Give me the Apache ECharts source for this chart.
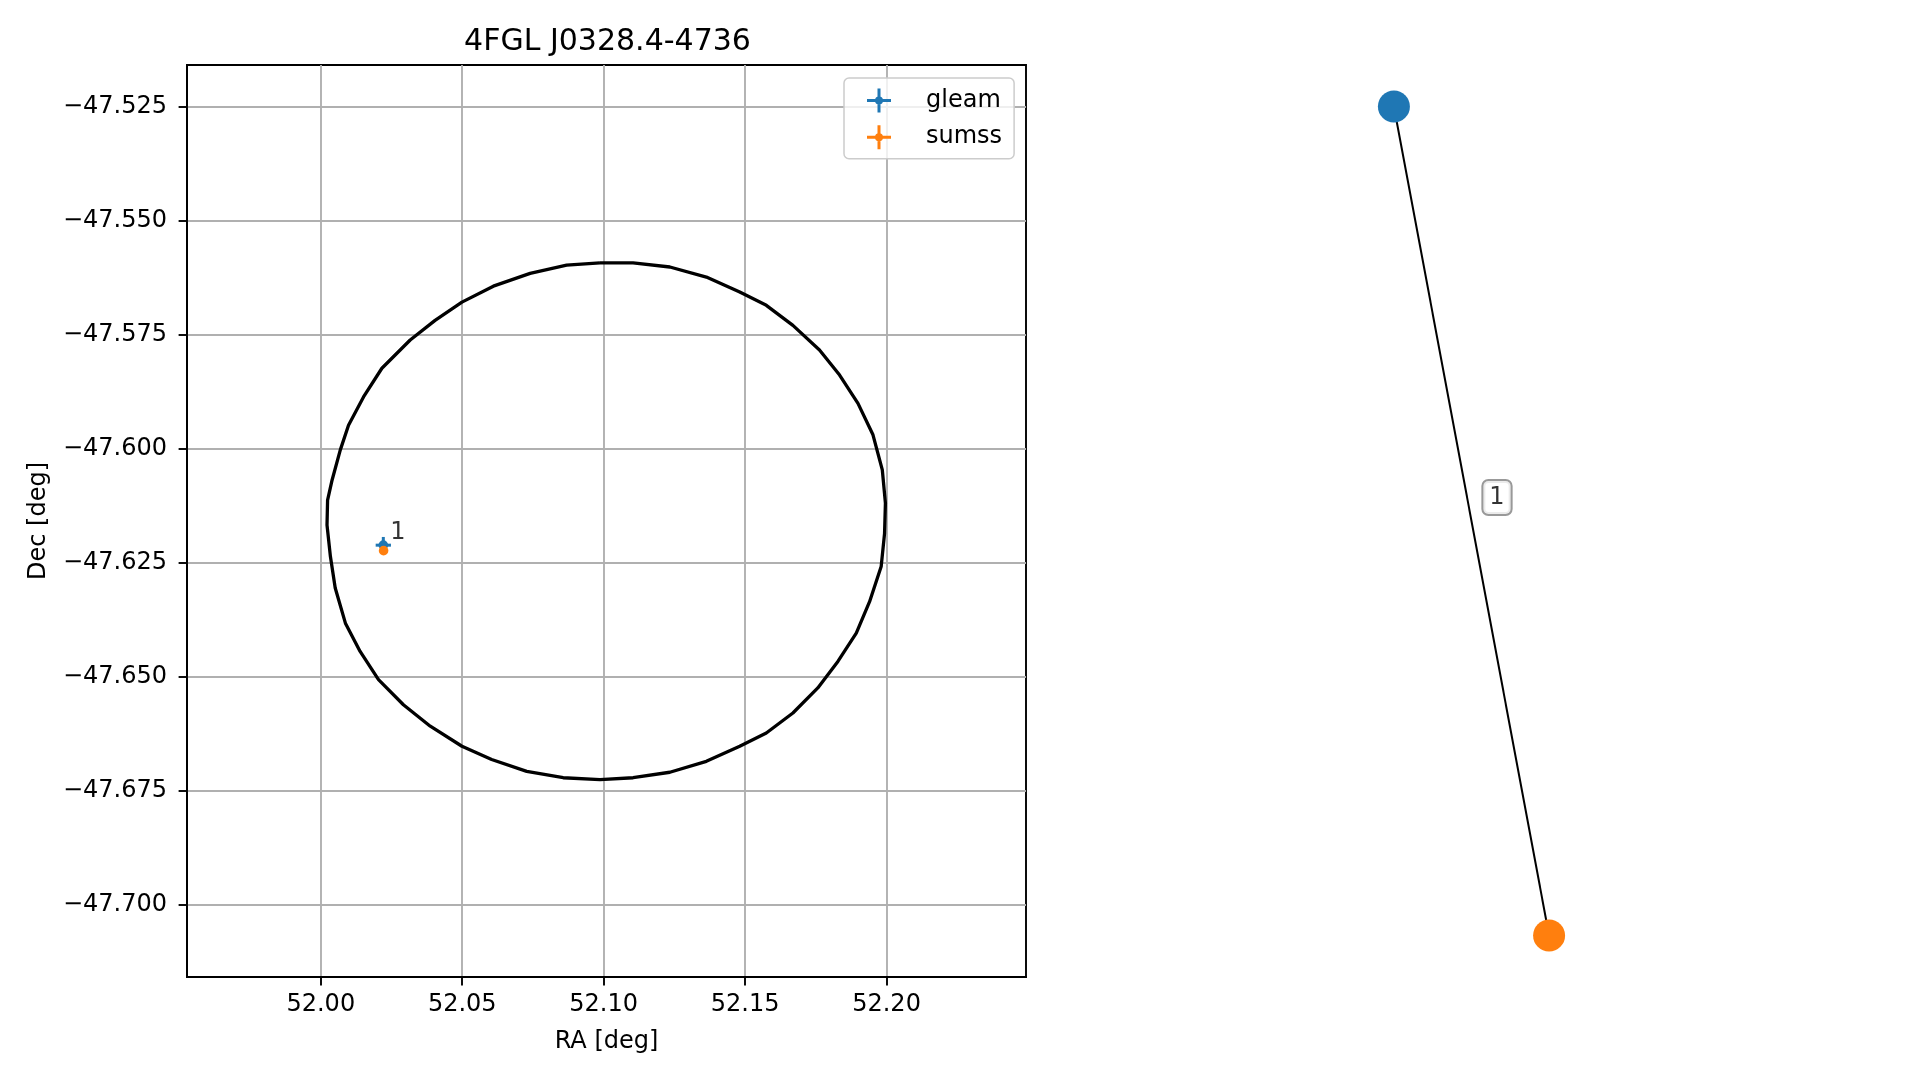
<!DOCTYPE html>
<html><head><meta charset="utf-8">
<script src="https://cdn.jsdelivr.net/npm/echarts@6/dist/echarts.min.js"></script>
<style>html,body{margin:0;padding:0;background:#fff}#c{width:1919px;height:1080px}</style>
</head><body><div id="c"></div>
<script>
const chartTitle = '4FGL J0328.4-4736';
const xTicks = [52.00, 52.05, 52.10, 52.15, 52.20];
const yTicks = [-47.700, -47.675, -47.650, -47.625, -47.600, -47.575, -47.550, -47.525];
const xRange = [51.9527, 52.2493];
const yRange = [-47.7159, -47.5159];
// 95% ellipse polygon vertices
const ellipseRA = [52.0987, 52.1104, 52.1234, 52.1363, 52.1481, 52.1575, 52.1669, 52.1763, 52.1834, 52.1899,
  52.1952, 52.1985, 52.1996, 52.1993, 52.1981, 52.1940, 52.1893, 52.1828, 52.1757, 52.1669,
  52.1575, 52.1481, 52.1363, 52.1234, 52.1104, 52.0987, 52.0857, 52.0728, 52.0604, 52.0499,
  52.0387, 52.0292, 52.0204, 52.0139, 52.0087, 52.0051, 52.0034, 52.0022, 52.0024, 52.0040,
  52.0069, 52.0098, 52.0151, 52.0216, 52.0316, 52.0404, 52.0499, 52.0610, 52.0740, 52.0869];
const ellipseDec = [-47.5593, -47.5593, -47.5602, -47.5624, -47.5657, -47.5686, -47.5730, -47.5784, -47.5839, -47.5901,
  -47.5970, -47.6047, -47.6120, -47.6186, -47.6259, -47.6336, -47.6405, -47.6467, -47.6525, -47.6580,
  -47.6624, -47.6653, -47.6686, -47.6710, -47.6722, -47.6726, -47.6722, -47.6708, -47.6682, -47.6653,
  -47.6609, -47.6562, -47.6507, -47.6445, -47.6383, -47.6306, -47.6237, -47.6168, -47.6113, -47.6069,
  -47.6003, -47.5949, -47.5887, -47.5824, -47.5762, -47.5719, -47.5679, -47.5644, -47.5616, -47.5598];
const sourceNames = ['gleam', 'sumss'];
const sourceRA = [52.0221, 52.0222];
const sourceDec = [-47.6212, -47.6224];
const sourceRAErr = [0.0027, 0.0008];
const sourceDecErr = [0.0018, 0.0006];
const matchLabels = ['1'];
const graphNodeX = [-0.30, 0.30];
const graphNodeY = [1.0, -1.0];
const graphEdges = [[0, 1]];

const colors = ['#1f77b4', '#ff7f0e'];
const FONT = 'DejaVu Sans';
const plusIcon = 'path://M0,10.5L24,10.5L24,13.5L0,13.5Z M10.5,0L13.5,0L13.5,24L10.5,24Z M8,12A4,4,0,1,1,16,12A4,4,0,1,1,8,12Z';

function errRender(params, api) {
  const x = api.value(0), y = api.value(1), xe = api.value(2), ye = api.value(3);
  const c = api.coord([x, y]);
  const l = api.coord([x - xe, y]), r = api.coord([x + xe, y]);
  const t = api.coord([x, y + ye]), b = api.coord([x, y - ye]);
  const color = api.visual('color');
  return {type: 'group', children: [
    {type: 'line', shape: {x1: l[0], y1: l[1], x2: r[0], y2: r[1]}, style: {stroke: color, lineWidth: 3}},
    {type: 'line', shape: {x1: t[0], y1: t[1], x2: b[0], y2: b[1]}, style: {stroke: color, lineWidth: 3}},
    {type: 'circle', shape: {cx: c[0], cy: c[1], r: 4.8}, style: {fill: color}}
  ]};
}

const ellipseData = ellipseRA.map((ra, i) => [ra, ellipseDec[i]]);
ellipseData.push(ellipseData[0]);

const srcSeries = sourceNames.map((n, i) => ({
  name: n, type: 'custom', xAxisIndex: 0, yAxisIndex: 0,
  itemStyle: {color: colors[i]},
  renderItem: errRender,
  encode: {x: 0, y: 1},
  data: [[sourceRA[i], sourceDec[i], sourceRAErr[i], sourceDecErr[i]]],
  z: 5 + i
}));

// edge label anchors: midpoints of edges in graph layout
const edgeMid = graphEdges.map(e => [(graphNodeX[e[0]] + graphNodeX[e[1]]) / 2, (graphNodeY[e[0]] + graphNodeY[e[1]]) / 2]);

const option = {
  backgroundColor: '#fff',
  animation: false,
  title: {text: chartTitle, left: 602.5, textAlign: 'center', top: 22,
    textStyle: {fontFamily: FONT, fontSize: 30, fontWeight: 'normal', color: '#000'}},
  legend: {
    left: 844, top: 78, orient: 'vertical', itemWidth: 24, itemHeight: 25, itemGap: 11.7,
    padding: [10, 12, 9, 23], backgroundColor: 'rgba(255,255,255,0.8)', borderColor: '#cccccc',
    borderWidth: 1.5, borderRadius: 5, selectedMode: false,
    textStyle: {fontSize: 24, lineHeight: 25, fontFamily: FONT, color: '#000', padding: [0, 0, 0, 30]},
    data: sourceNames.map(n => ({name: n, icon: plusIcon}))
  },
  grid: [
    {left: 187, top: 65, width: 839, height: 912, show: true, borderColor: '#000', borderWidth: 1.9, containLabel: false},
    {left: 1187, top: 65, width: 569, height: 912, show: false}
  ],
  xAxis: [
    {type: 'value', gridIndex: 0, min: xRange[0], max: xRange[1],
      name: 'RA [deg]', nameLocation: 'middle', nameGap: 53,
      nameTextStyle: {fontFamily: FONT, fontSize: 24, color: '#000'},
      axisLine: {show: true, lineStyle: {color: '#000', width: 1.9}},
      axisTick: {show: true, customValues: xTicks, length: 8.4, lineStyle: {color: '#000', width: 1.9}},
      axisLabel: {customValues: xTicks, margin: 16, fontFamily: FONT, fontSize: 24, color: '#000', formatter: v => v.toFixed(2)},
      splitLine: {show: true, lineStyle: {color: '#b0b0b0', width: 1.9}}},
    {type: 'value', gridIndex: 1, min: -1.1, max: 1.1, show: false}
  ],
  yAxis: [
    {type: 'value', gridIndex: 0, min: yRange[0], max: yRange[1],
      name: 'Dec [deg]', nameLocation: 'middle', nameGap: 136,
      nameTextStyle: {fontFamily: FONT, fontSize: 24, color: '#000'},
      axisLine: {show: true, lineStyle: {color: '#000', width: 1.9}},
      axisTick: {show: true, customValues: yTicks, length: 8.4, lineStyle: {color: '#000', width: 1.9}},
      axisLabel: {customValues: yTicks, margin: 20, fontFamily: FONT, fontSize: 24, color: '#000',
        formatter: v => v.toFixed(3).replace('-', '\u2212')},
      splitLine: {show: true, lineStyle: {color: '#b0b0b0', width: 1.9}}},
    {type: 'value', gridIndex: 1, min: -1.1, max: 1.1, show: false}
  ],
  series: [
    {name: 'ellipse', type: 'line', xAxisIndex: 0, yAxisIndex: 0, data: ellipseData,
      symbol: 'none', smooth: false, lineStyle: {color: '#000', width: 3.3}, z: 3, silent: true},
    ...srcSeries,
    {name: 'annot', type: 'scatter', xAxisIndex: 0, yAxisIndex: 0, symbolSize: 2,
      itemStyle: {color: 'rgba(0,0,0,0)'}, silent: true, z: 8,
      data: [[sourceRA[0], sourceDec[0]]],
      label: {show: true, position: 'right', distance: 6, offset: [0, -12],
        formatter: () => matchLabels[0], fontFamily: FONT, fontSize: 24, color: '#000'}},
    {name: 'graph', type: 'graph', coordinateSystem: 'cartesian2d', xAxisIndex: 1, yAxisIndex: 1,
      symbolSize: 32, silent: true,
      data: sourceNames.map((n, i) => ({name: n, value: [graphNodeX[i], graphNodeY[i]], itemStyle: {color: colors[i]}})),
      links: graphEdges.map(e => ({source: e[0], target: e[1]})),
      lineStyle: {color: '#000', width: 2, opacity: 1, curveness: 0},
      label: {show: false}, edgeLabel: {show: false}},
    {name: 'edgeLabels', type: 'scatter', xAxisIndex: 1, yAxisIndex: 1, symbolSize: 2,
      itemStyle: {color: 'rgba(0,0,0,0)'}, silent: true, z: 9,
      data: edgeMid,
      label: {show: true, position: 'inside', offset: [25.5, -23.5],
        formatter: p => matchLabels[p.dataIndex], fontFamily: FONT, fontSize: 24, lineHeight: 24, color: '#000',
        backgroundColor: '#fff', borderColor: '#808080', borderWidth: 2, borderRadius: 5, padding: [5, 6, 4, 6]}}
  ]
};
const chart = echarts.init(document.getElementById('c'), null, {renderer: 'canvas'});
chart.setOption(option);
</script></body></html>
